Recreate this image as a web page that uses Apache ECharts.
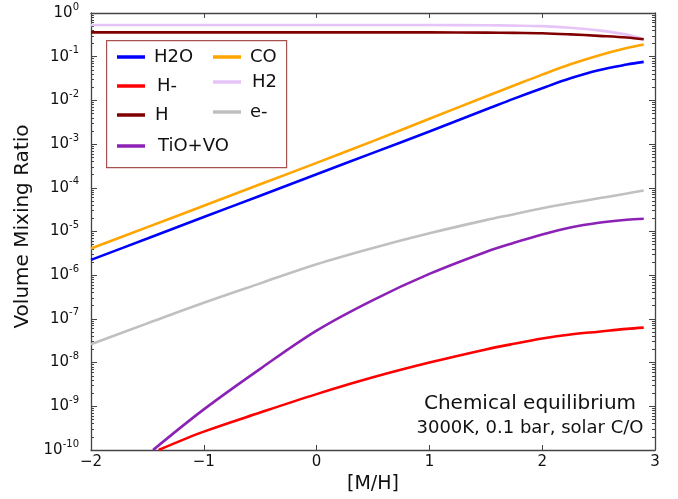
<!DOCTYPE html>
<html>
<head>
<meta charset="utf-8">
<script src="https://cdn.jsdelivr.net/npm/echarts@6/dist/echarts.min.js"></script>
<style>html,body{margin:0;padding:0;background:#fff}#c{width:678px;height:499px}</style>
</head>
<body>
<div id="c"></div>
<script>
// [M/H] grid shared by most species
var mh = [-2, -1.5, -1, -0.5, 0, 0.5, 1, 1.5, 1.75, 2, 2.25, 2.5, 2.75, 2.9];
var h2o = [2.24e-6, 6.9e-6, 2.14e-5, 6.6e-5, 2.04e-4, 6.3e-4, 1.95e-3, 6.17e-3, 1.1e-2, 1.9e-2, 3.2e-2, 4.9e-2, 6.6e-2, 7.6e-2];
var co  = [4.07e-6, 1.26e-5, 3.89e-5, 1.2e-4, 3.72e-4, 1.17e-3, 3.8e-3, 1.23e-2, 2.19e-2, 3.89e-2, 6.7e-2, 0.107, 0.158, 0.19];
var h2  = [0.53, 0.53, 0.53, 0.53, 0.53, 0.53, 0.53, 0.525, 0.515, 0.50, 0.46, 0.40, 0.32, 0.25];
var hAt = [0.36, 0.36, 0.36, 0.36, 0.36, 0.36, 0.36, 0.355, 0.35, 0.345, 0.325, 0.30, 0.275, 0.25];
var eMinus = [2.63e-8, 7.9e-8, 2.34e-7, 6.5e-7, 1.78e-6, 4.2e-6, 9.1e-6, 1.82e-5, 2.48e-5, 3.39e-5, 4.47e-5, 5.75e-5, 7.4e-5, 8.7e-5];
// species entering the plot above 1e-10
var mhTio = [-1.45, -1, -0.5, 0, 0.5, 1, 1.5, 1.75, 2, 2.25, 2.5, 2.75, 2.9];
var tiovo = [1e-10, 8.5e-10, 7.2e-9, 5.4e-8, 2.7e-7, 1.07e-6, 3.4e-6, 5.5e-6, 8.5e-6, 1.23e-5, 1.58e-5, 1.86e-5, 1.95e-5];
var mhHm = [-1.4, -1, -0.5, 0, 0.5, 1, 1.5, 1.75, 2, 2.25, 2.5, 2.75, 2.9];
var hMinus = [1e-10, 2.63e-10, 7.2e-10, 1.9e-9, 4.6e-9, 1.0e-8, 2.0e-8, 2.7e-8, 3.55e-8, 4.4e-8, 5.1e-8, 5.9e-8, 6.3e-8];

var names = ['H2O', 'H-', 'H', 'TiO+VO', 'CO', 'H2', 'e-'];
var colors = {'H2O':'#0000ff','H-':'#ff0000','H':'#800000','TiO+VO':'#8b22b5','CO':'#ffa500','H2':'#e6c4f8','e-':'#c0c0c0'};
var xTicks = [-2, -1, 0, 1, 2, 3];
var annot1 = 'Chemical equilibrium';
var annot2 = '3000K, 0.1 bar, solar C/O';

function pairs(xs, ys){ return xs.map(function(x,i){ return [x, ys[i]]; }); }
var seriesData = {
  'H2O': pairs(mh, h2o), 'CO': pairs(mh, co), 'H2': pairs(mh, h2), 'H': pairs(mh, hAt),
  'e-': pairs(mh, eMinus), 'TiO+VO': pairs(mhTio, tiovo), 'H-': pairs(mhHm, hMinus)
};
var drawOrder = ['e-', 'TiO+VO', 'H-', 'H2', 'H', 'CO', 'H2O'];

var FONT = 'DejaVu Sans';
var axisCol = '#444';

// minor log tick positions 2..9 x 10^e
var minorVals = [];
for (var e = -10; e < 0; e++) { for (var k = 2; k <= 9; k++) { minorVals.push(k * Math.pow(10, e)); } }

function yLab(v){
  var e = Math.round(Math.log10(v));
  return '{b|10}{s|' + e + '}';
}
function yAx(extra){
  return Object.assign({
    type: 'log', logBase: 10, min: 1e-10, max: 1, interval: 1,
    axisLine: {show: true, onZero: false, lineStyle: {color: axisCol, width: 1.3}},
    axisTick: {show: true, inside: true, length: 6, lineStyle: {color: axisCol, width: 1}},
    axisLabel: {show: false},
    splitLine: {show: false}
  }, extra);
}
var legends = [
  {n:'H2O', l:117, t:47, p:4}, {n:'H-', l:117, t:76, p:7}, {n:'H', l:117, t:105, p:5},
  {n:'TiO+VO', l:117, t:136, p:8}, {n:'CO', l:213, t:47, p:4}, {n:'H2', l:213, t:72, p:6},
  {n:'e-', l:213, t:102, p:4}
].map(function(d){
  return {
    data: [d.n], left: d.l, top: d.t, padding: 0, selectedMode: false,
    icon: 'rect', itemWidth: 28, itemHeight: 3.5,
    textStyle: {fontFamily: FONT, fontSize: 18, color: '#111', lineHeight: 20, padding: [0,0,0,d.p]}
  };
});

var minorTickStyle = {show: true, inside: true, length: 3, customValues: minorVals, lineStyle: {color: axisCol, width: 1}};

var option = {
  animation: false,
  backgroundColor: '#fff',
  grid: {left: 91, right: 23, top: 13, bottom: 49, containLabel: false},
  xAxis: [{
    type: 'value', min: -2, max: 3, interval: 1,
    name: '[M/H]', nameLocation: 'middle', nameGap: 22,
    nameTextStyle: {fontFamily: FONT, fontSize: 19, color: '#111'},
    axisLine: {show: true, onZero: false, lineStyle: {color: axisCol, width: 1.3}},
    axisTick: {show: true, inside: true, length: 5, lineStyle: {color: axisCol}},
    axisLabel: {margin: 5, fontFamily: FONT, fontSize: 15, color: '#111',
      formatter: function(v){ return String(v).replace('-', '\u2212'); }},
    splitLine: {show: false}
  }, {
    type: 'value', min: -2, max: 3, interval: 1, position: 'top',
    axisLine: {show: true, onZero: false, lineStyle: {color: axisCol, width: 1.3}},
    axisTick: {show: true, inside: true, length: 5, lineStyle: {color: axisCol}},
    axisLabel: {show: false}, splitLine: {show: false}
  }],
  yAxis: [
    yAx({
      position: 'left',
      name: 'Volume Mixing Ratio', nameLocation: 'middle', nameGap: 56,
      nameTextStyle: {fontFamily: FONT, fontSize: 20, color: '#111', padding: [0,0,0,10]},
      axisLabel: {show: true, margin: 12, fontFamily: FONT, color: '#111', formatter: yLab,
        rich: {b: {fontFamily: FONT, fontSize: 15, color: '#111'},
               s: {fontFamily: FONT, fontSize: 10, color: '#111', padding: [0,0,12,0]}}}
    }),
    yAx({position: 'right'}),
    yAx({position: 'left', axisLine: {show: false, onZero: false}, axisTick: minorTickStyle}),
    yAx({position: 'right', axisLine: {show: false, onZero: false}, axisTick: minorTickStyle})
  ],
  legend: legends,
  graphic: [{
    type: 'rect', left: 106, top: 40, z: 50,
    shape: {width: 180, height: 127},
    style: {fill: 'rgba(255,255,255,0)', stroke: '#a65050', lineWidth: 1.2}
  }, {
    type: 'text', x: 530, y: 404, z: 50,
    style: {text: annot1, fontFamily: FONT, fontSize: 20, fill: '#111', align: 'center', verticalAlign: 'middle'}
  }, {
    type: 'text', x: 530, y: 428, z: 50,
    style: {text: annot2, fontFamily: FONT, fontSize: 18, fill: '#111', align: 'center', verticalAlign: 'middle'}
  }],
  series: drawOrder.map(function(n){
    return {
      name: n, type: 'line', xAxisIndex: 0, yAxisIndex: 0,
      data: seriesData[n], showSymbol: false, symbol: 'none',
      smooth: 0.35, clip: true,
      lineStyle: {color: colors[n], width: 2.6}, itemStyle: {color: colors[n]}
    };
  })
};
var chart = echarts.init(document.getElementById('c'), null, {renderer: 'canvas'});
chart.setOption(option);
</script>
</body>
</html>
